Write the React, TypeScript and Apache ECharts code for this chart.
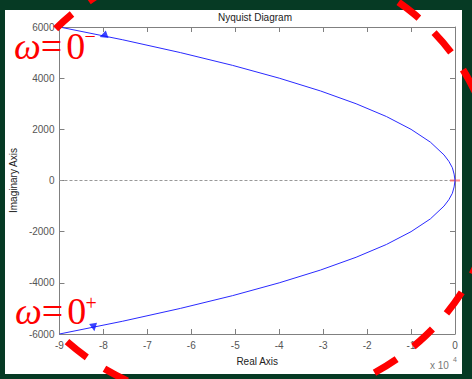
import React, { useEffect, useRef } from "react";
import * as echarts from "echarts";

// Nyquist curve (real part in units of 1e4)
const imagValues = [6000, 5500, 5000, 4500, 4000, 3500, 3000, 2500, 2000, 1500, 1000, 750, 500, 250, 0, -250, -500, -750, -1000, -1500, -2000, -2500, -3000, -3500, -4000, -4500, -5000, -5500, -6000];
const realValues = [-9.0, -7.56, -6.25, -5.06, -4.0, -3.06, -2.25, -1.56, -1.0, -0.56, -0.25, -0.14, -0.06, -0.02, 0, -0.02, -0.06, -0.14, -0.25, -0.56, -1.0, -1.56, -2.25, -3.06, -4.0, -5.06, -6.25, -7.56, -9.0];

// direction arrows
const arrowReal = [-8.0, -8.22];
const arrowImag = [5660, -5740];
const arrowRotate = [110, 190];

// axes
const xMin = -9;
const xMax = 0;
const xStep = 1;
const yMin = -6000;
const yMax = 6000;
const yStep = 2000;

const titleText = "Nyquist Diagram";
const xName = "Real Axis";
const yName = "Imaginary Axis";

// red dashed (open) elliptical arc drawn around the plot, from ω=0− clockwise to ω=0+
const arcPath = "M55.73 28.78 A252 226 0 1 1 67 341.7";

let arcRegistered = false;

export default function App() {
  const ref = useRef<HTMLDivElement>(null);
  useEffect(() => {
    if (!ref.current) return;
    if (!arcRegistered) {
      echarts.graphic.registerShape("redArc", echarts.graphic.extendPath(arcPath, {}));
      arcRegistered = true;
    }
    const chart = echarts.init(ref.current, null, { renderer: "svg" });
    const axisGray = "#808080";
    const labelColor = "#555";
    const font = "Liberation Sans";
    const serif = "Liberation Serif";

    const curve = realValues.map((r, i) => [r, imagValues[i]]);
    const arrows = arrowReal.map((r, i) => ({
      value: [r, arrowImag[i]],
      symbolRotate: arrowRotate[i],
    }));

    const baseX = {
      type: "value",
      min: xMin,
      max: xMax,
      interval: xStep,
      splitLine: { show: false },
      axisLine: { show: true, onZero: false, lineStyle: { color: axisGray, width: 1 } },
      axisTick: { show: true, inside: true, length: 5, lineStyle: { color: axisGray } },
    };
    const baseY = {
      type: "value",
      min: yMin,
      max: yMax,
      interval: yStep,
      splitLine: { show: false },
      axisLine: { show: true, onZero: false, lineStyle: { color: axisGray, width: 1 } },
      axisTick: { show: true, inside: true, length: 5, lineStyle: { color: axisGray } },
    };

    const redMain = {
      text: "{w|ω}{e|=}{z|0}",
      fill: "#ff0000",
      verticalAlign: "middle",
      rich: {
        w: { fontStyle: "italic", fontSize: 38, fontFamily: serif, fill: "#ff0000", lineHeight: 28 },
        e: { fontSize: 38, fontFamily: serif, fill: "#ff0000", lineHeight: 28 },
        z: { fontSize: 38, fontFamily: serif, fill: "#ff0000", lineHeight: 28, padding: [0, 0, 0, 4] },
      },
    };
    const redSup = (t: string) => ({
      text: t,
      fill: "#ff0000",
      font: `20px ${serif}`,
      verticalAlign: "middle",
    });

    chart.setOption({
      animation: false,
      backgroundColor: "#063a24",
      grid: { left: 55, right: 17, top: 27, bottom: 45, containLabel: false },
      xAxis: [
        {
          ...baseX,
          position: "bottom",
          axisLabel: { color: labelColor, fontSize: 10, fontFamily: font, margin: 6, formatter: (v: number) => String(v) },
          name: xName,
          nameLocation: "middle",
          nameGap: 22,
          nameTextStyle: { color: "#222", fontSize: 10, fontFamily: font },
        },
        { ...baseX, position: "top", axisLabel: { show: false } },
      ],
      yAxis: [
        {
          ...baseY,
          position: "left",
          axisLabel: { color: labelColor, fontSize: 10, fontFamily: font, margin: 5, formatter: (v: number) => String(v) },
          name: yName,
          nameLocation: "middle",
          nameGap: 41,
          nameTextStyle: { color: "#222", fontSize: 10, fontFamily: font },
        },
        { ...baseY, position: "right", axisLabel: { show: false } },
      ],
      series: [
        {
          type: "line",
          data: [[xMin, 0], [xMax, 0]],
          showSymbol: false,
          symbol: "none",
          lineStyle: { color: "#999", width: 1, type: [3, 2] },
          silent: true,
          z: 1,
        },
        {
          type: "line",
          data: curve,
          showSymbol: false,
          symbol: "none",
          lineStyle: { color: "#2a2aff", width: 1 },
          z: 3,
        },
        {
          type: "scatter",
          data: arrows,
          symbol: "triangle",
          symbolSize: [8, 8],
          itemStyle: { color: "#0a14ff" },
          z: 4,
        },
        {
          type: "scatter",
          data: [[0, 0]],
          symbol: "rect",
          symbolSize: [10, 2],
          itemStyle: { color: "#ff6a6a" },
          z: 2,
        },
      ],
      graphic: [
        { type: "rect", z: -1, shape: { x: 5, y: 10, width: 457, height: 364 }, style: { fill: "#ffffff" } },
        { type: "text", z: 10, x: 255, y: 17, style: { text: titleText, fill: "#222", font: `10px ${font}`, align: "center", verticalAlign: "middle" } },
        { type: "text", z: 10, x: 430, y: 365, style: { text: "x 10", fill: "#777", font: `10px ${font}`, verticalAlign: "middle" } },
        { type: "text", z: 10, x: 453, y: 359, style: { text: "4", fill: "#777", font: `7px ${font}`, verticalAlign: "middle" } },
        // red annotations
        { type: "text", z: 20, x: 14, y: 46, style: redMain },
        { type: "text", z: 20, x: 84.5, y: 35.5, style: redSup("−") },
        { type: "text", z: 20, x: 15, y: 311, style: redMain },
        { type: "text", z: 20, x: 85.5, y: 303, style: redSup("+") },
        {
          type: "redArc",
          z: 30,
          x: 0,
          y: 0,
          style: { fill: "none", stroke: "#ff0000", lineWidth: 7, lineDash: [26, 21], lineDashOffset: 4.4 },
        },
      ],
    });
    return () => chart.dispose();
  }, []);
  return <div ref={ref} style={{ position: "absolute", left: 0, top: 0, width: 472, height: 379 }} />;
}
